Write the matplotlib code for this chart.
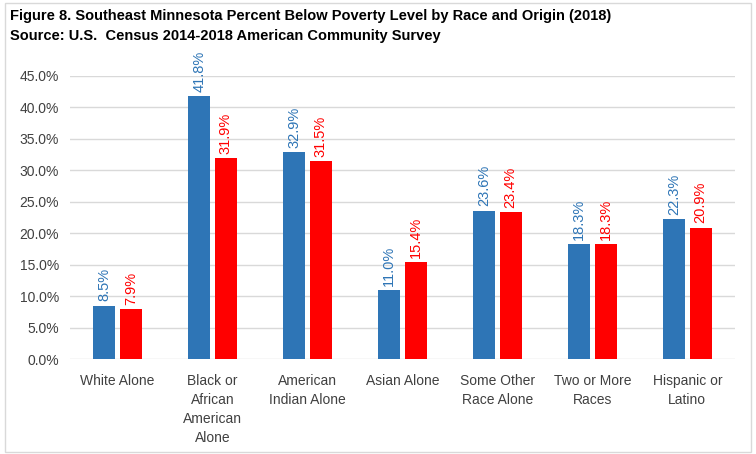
import matplotlib.pyplot as plt
from matplotlib.patches import Rectangle
import numpy as np

# 数据
categories = ["White Alone", "Black or\nAfrican\nAmerican\nAlone", "American\nIndian Alone",
              "Asian Alone", "Some Other\nRace Alone", "Two or More\nRaces", "Hispanic or\nLatino"]
blue_vals = [8.5, 41.8, 32.9, 11.0, 23.6, 18.3, 22.3]
red_vals = [7.9, 31.9, 31.5, 15.4, 23.4, 18.3, 20.9]
yticks = [0, 5, 10, 15, 20, 25, 30, 35, 40, 45]

blue = "#2E75B6"
red = "#FF0000"

plt.rcParams['font.family'] = ['Liberation Sans', 'DejaVu Sans']

fig = plt.figure(figsize=(7.56, 4.54), dpi=100)
ax = fig.add_axes([0.0926, 0.209, 0.8794, 0.624])

x = np.arange(len(categories))
w = 0.23
off = 0.14
b1 = ax.bar(x - off, blue_vals, w, color=blue, zorder=3)
b2 = ax.bar(x + off, red_vals, w, color=red, zorder=3)

# 数据标签
for bars, vals, c in [(b1, blue_vals, blue), (b2, red_vals, red)]:
    for bar, v in zip(bars, vals):
        ax.annotate(f"{v:.1f}%", (bar.get_x() + bar.get_width() / 2, v),
                    xytext=(0, 3), textcoords="offset points", rotation=90,
                    ha="center", va="bottom", color=c, fontsize=10.5)

ax.set_ylim(0, 45)
ax.set_xlim(-0.5, len(categories) - 0.5)
ax.set_yticks(yticks)
ax.set_yticklabels([f"{t:.1f}%" for t in yticks], fontsize=10, color="#404040")
ax.set_xticks(x)
ax.set_xticklabels(categories, fontsize=10, color="#404040", linespacing=1.45)
ax.tick_params(axis="y", length=0, pad=8)
ax.tick_params(axis="x", length=0, pad=11)
ax.grid(axis="y", color="#D9D9D9", linewidth=1, zorder=0)
for s in ax.spines.values():
    s.set_visible(False)

# 标题
fig.text(0.013, 0.98, "Figure 8. Southeast Minnesota Percent Below Poverty Level by Race and Origin (2018)",
         fontsize=10.5, fontweight="bold", va="top")
fig.text(0.013, 0.936, "Source: U.S.  Census 2014-2018 American Community Survey",
         fontsize=10.5, fontweight="bold", va="top")

# 外框
fig.patches.append(Rectangle((0.006, 0.004), 0.988, 0.99, transform=fig.transFigure,
                             fill=False, edgecolor="#D9D9D9", linewidth=1))

fig.savefig("out.png", dpi=100)
